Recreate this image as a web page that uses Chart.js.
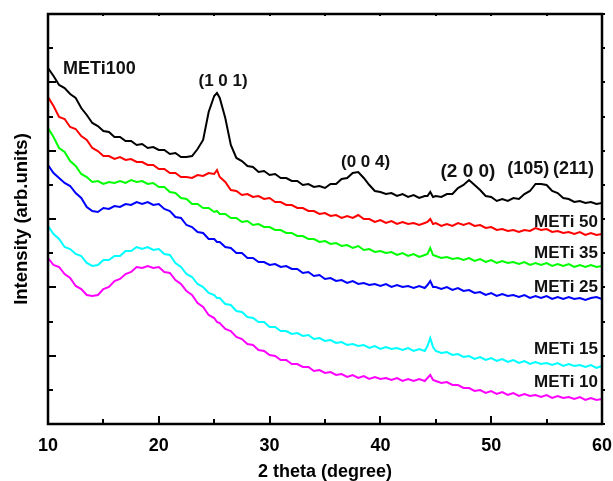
<!DOCTYPE html>
<html><head><meta charset="utf-8">
<script src="https://cdn.jsdelivr.net/npm/chart.js@4.4.0/dist/chart.umd.min.js"></script>
<style>html,body{margin:0;padding:0;background:#fff}#wrap{width:613px;height:481px;position:relative}</style>
</head><body><div id="wrap"><canvas id="c"></canvas></div>
<script>
// 2 theta (degree)
const theta = [10,10.5,11,11.5,12,12.5,13,13.5,14,14.5,15,15.5,16,16.5,17,17.5,18,18.5,19,19.5,20,20.5,21,21.5,22,22.5,23,23.5,24,24.5,25,25.25,25.5,26,26.5,27,27.5,28,28.5,29,29.5,30,30.5,31,31.5,32,32.5,33,33.5,34,34.5,35,35.5,36,36.5,37,37.5,38,38.5,39,39.5,40,40.5,41,41.5,42,42.5,43,43.5,44,44.25,44.5,44.75,45,45.5,46,46.5,47,47.5,48,48.5,49,49.5,50,50.5,51,51.5,52,52.5,53,53.5,54,54.5,55,55.5,56,56.5,57,57.5,58,58.5,59,59.5,60];

// Intensity (arb. units), stacked patterns
const meti100 = [3560,3480,3390,3360,3300,3260,3160,3090,3010,2980,
2930,2920,2870,2870,2830,2830,2790,2800,2760,2770,
2740,2740,2700,2710,2670,2670,2680,2750,2840,3120,
3280,3310,3260,
3060,2790,2660,2630,2580,2570,2520,2530,
2490,2500,2460,2460,2430,2430,2390,2400,2370,2380,
2360,2400,2400,2450,2460,2510,2520,2460,2390,2330,
2320,2300,2310,2280,2300,2270,2290,2260,2280,
2280,2320,2270,
2280,2270,2300,2300,2360,2390,2440,2390,2340,2280,
2270,2230,2250,2230,2260,2250,2300,2330,2400,2400,
2390,2330,2310,2260,2250,2220,2230,2210,2220,2200,2210];

const meti50 = [3270,3180,3070,3050,2970,2950,2880,2840,2760,2730,
2680,2680,2650,2670,2640,2650,2620,2620,2590,2590,
2550,2550,2510,2510,2470,2470,2460,2490,2480,2510,
2500,2540,2470,
2420,2340,2330,2290,2300,2270,2280,2250,
2260,2220,2220,2190,2190,2160,2160,2130,2130,2100,
2110,2080,2090,2060,2080,2060,2090,2050,2050,2020,
2040,2010,2030,2000,2020,2000,2010,1990,2010,
2020,2050,2000,
2010,1980,2000,1980,2010,1990,2010,1980,1990,1960,
1970,1940,1950,1930,1940,1920,1940,1930,1960,1940,
1950,1920,1930,1910,1920,1900,1920,1890,1910,1890,1900];

const meti35 = [2960,2870,2760,2720,2630,2580,2500,2470,2420,2430,
2400,2420,2410,2430,2410,2440,2420,2430,2400,2410,
2370,2370,2320,2310,2260,2250,2200,2200,2160,2160,
2120,2130,2100,
2100,2060,2060,2020,2030,1990,2000,1970,
1970,1940,1940,1910,1910,1880,1880,1850,1850,1820,
1830,1800,1810,1780,1790,1760,1780,1740,1750,1720,
1730,1710,1720,1690,1710,1680,1700,1670,1690,
1700,1760,1690,
1680,1660,1670,1650,1660,1640,1660,1630,1650,1620,
1640,1610,1630,1610,1620,1600,1620,1590,1610,1590,
1610,1580,1600,1580,1600,1570,1590,1570,1590,1570,1580];

const meti25 = [2590,2510,2460,2410,2380,2310,2260,2170,2130,2120,
2160,2150,2180,2170,2200,2190,2220,2200,2220,2190,
2200,2150,2130,2070,2060,1990,1970,1920,1910,1850,
1850,1820,1820,
1770,1760,1710,1710,1660,1660,1620,1620,
1590,1600,1570,1580,1550,1550,1510,1520,1480,1490,
1450,1460,1430,1440,1410,1430,1400,1410,1390,1400,
1380,1400,1370,1390,1370,1380,1360,1380,1360,
1390,1430,1370,
1370,1350,1370,1340,1360,1330,1340,1310,1320,1290,
1310,1280,1300,1280,1290,1270,1290,1260,1280,1260,
1280,1250,1270,1250,1270,1250,1260,1240,1260,1270,1250];

const meti15 = [1980,1900,1850,1770,1750,1700,1680,1610,1580,1590,
1640,1640,1680,1680,1730,1730,1770,1750,1770,1740,
1750,1700,1690,1610,1570,1500,1470,1400,1370,1310,
1290,1260,1260,
1200,1190,1130,1120,1070,1060,1020,1020,
970,970,930,930,900,910,880,890,850,860,
830,840,810,820,790,800,780,790,760,780,
750,770,750,760,740,760,730,750,730,
780,860,770,
730,710,720,690,700,670,680,650,670,640,
660,630,650,620,640,610,630,600,620,600,
610,590,610,580,600,580,590,570,590,560,580];

const meti10 = [1660,1590,1570,1500,1460,1380,1350,1290,1280,1290,
1350,1370,1430,1450,1500,1520,1570,1560,1580,1560,
1570,1520,1510,1440,1400,1330,1290,1210,1170,1090,
1060,1020,1010,
950,930,870,850,800,790,740,730,
690,680,640,640,600,600,570,570,530,540,
510,520,490,500,470,490,460,480,450,470,
450,460,440,460,430,450,430,450,430,
460,490,440,
430,410,420,390,390,360,360,330,340,310,
330,300,320,290,310,280,300,280,290,270,
290,260,280,260,270,250,270,240,260,240,250];

const seriesNames = ['METi100','METi 50','METi 35','METi 25','METi 15','METi 10'];
const seriesData = [meti100, meti50, meti35, meti25, meti15, meti10];
const seriesColors = ['#000000','#ff0000','#00ff00','#0000ff','#00ffff','#ff00ff'];

// axis ticks
const xTickValues = [10,15,20,25,30,35,40,45,50,55,60];
const xLabelValues = [10,20,30,40,50,60];
const yMin = 0, yMax = 4100, yDivisions = 12;

const FONT = "'Liberation Sans', Arial, Helvetica, sans-serif";

const annotations = [
  {text:'METi100', x:11.36, y:3550, align:'left',   size:18},
  {text:'(1 0 1)', x:25.8,  y:3430, align:'center', size:17},
  {text:'(0 0 4)', x:38.66, y:2620, align:'center', size:17},
  {text:'(2 0 0)', x:47.9,  y:2520, align:'center', size:19},
  {text:'(105)',   x:53.35, y:2550, align:'center', size:18},
  {text:'(211)',   x:57.42, y:2550, align:'center', size:18},
  {text:'METi 50', x:59.64, y:2020, align:'right',  size:17},
  {text:'METi 35', x:59.64, y:1710, align:'right',  size:17},
  {text:'METi 25', x:59.64, y:1370, align:'right',  size:17},
  {text:'METi 15', x:59.64, y:750,  align:'right',  size:17},
  {text:'METi 10', x:59.64, y:420,  align:'right',  size:17}
];

const textPlugin = {
  id:'annot',
  afterDatasetsDraw(chart){
    const {ctx, scales:{x,y}} = chart;
    ctx.save();
    ctx.fillStyle = '#111';
    ctx.textBaseline = 'middle';
    annotations.forEach(a=>{
      ctx.font = `bold ${a.size}px ${FONT}`;
      ctx.textAlign = a.align;
      ctx.fillText(a.text, x.getPixelForValue(a.x), y.getPixelForValue(a.y));
    });
    ctx.restore();
  }
};

const framePlugin = {
  id:'frame',
  afterDraw(chart){
    const {ctx, chartArea:{left,right,top,bottom}, scales:{x,y}} = chart;
    ctx.save();
    ctx.strokeStyle = '#000';
    ctx.lineWidth = 2;
    xTickValues.forEach(v=>{
      const p = Math.round(x.getPixelForValue(v));
      const major = v % 10 === 0;
      ctx.beginPath();
      ctx.moveTo(p, bottom); ctx.lineTo(p, bottom - (major ? 8 : 5));
      ctx.moveTo(p, top); ctx.lineTo(p, top + 2);
      ctx.stroke();
    });
    for (let i=0;i<=yDivisions;i++){
      const v = yMin + (yMax-yMin)*i/yDivisions;
      const p = Math.round(y.getPixelForValue(v));
      const major = i % 2 === 0;
      ctx.beginPath();
      ctx.moveTo(left, p); ctx.lineTo(left + (major ? 8 : 5), p);
      ctx.moveTo(right, p); ctx.lineTo(right + 3, p);
      ctx.stroke();
    }
    ctx.lineWidth = 2.5;
    ctx.strokeRect(left, top, right-left, bottom-top);
    ctx.restore();
  }
};

new Chart(document.getElementById('c'), {
  type:'line',
  data:{
    datasets: seriesData.map((arr,k)=>({
      label: seriesNames[k],
      data: theta.map((t,i)=>({x:t, y:arr[i]})),
      borderColor: seriesColors[k],
      backgroundColor: seriesColors[k],
      borderWidth: 2,
      pointRadius: 0,
      tension: 0,
      fill: false
    }))
  },
  options:{
    responsive:true,
    maintainAspectRatio:false,
    animation:false,
    devicePixelRatio:1,
    layout:{padding:{top:14,right:11,left:0,bottom:0}},
    plugins:{legend:{display:false}, tooltip:{enabled:false}},
    scales:{
      x:{
        type:'linear', min:10, max:60,
        afterBuildTicks(scale){ scale.ticks = xLabelValues.map(v=>({value:v})); },
        afterFit(scale){ scale.height = 57; scale.paddingLeft = 0; scale.paddingRight = 0; },
        grid:{display:false},
        border:{display:false},
        ticks:{color:'#000', padding:3, maxRotation:0, font:{family:FONT, size:18, weight:'bold'}},
        title:{display:true, text:'2 theta (degree)', color:'#000', padding:{top:0,bottom:0},
               font:{family:FONT, size:18, weight:'bold', lineHeight:1}}
      },
      y:{
        type:'linear', min:yMin, max:yMax,
        afterFit(scale){ scale.width = 48; scale.paddingTop = 0; scale.paddingBottom = 0; },
        grid:{display:false},
        border:{display:false},
        ticks:{display:false},
        title:{display:true, text:'Intensity (arb.units)', color:'#000', padding:{top:13,bottom:0},
               font:{family:FONT, size:18.5, weight:'bold', lineHeight:1}}
      }
    }
  },
  plugins:[textPlugin, framePlugin]
});
</script>
</body></html>
